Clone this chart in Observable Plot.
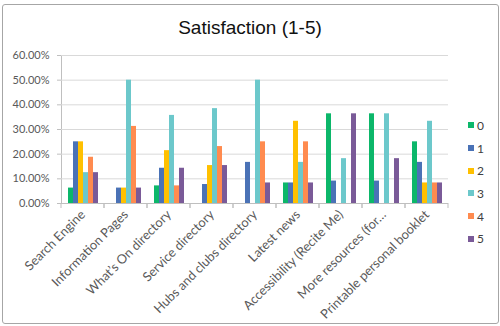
<!DOCTYPE html>
<html>
<head>
<meta charset="utf-8">
<script src="https://cdn.jsdelivr.net/npm/d3@7"></script>
<script src="https://cdn.jsdelivr.net/npm/@observablehq/plot@0.6"></script>
<style>
  html, body { margin: 0; padding: 0; background: #fff; }
  #page { position: relative; width: 500px; height: 326px; overflow: hidden; }
  #border { position: absolute; left: 2px; top: 4px; width: 497px; height: 320px; box-sizing: border-box;
            border: 1px solid #a6a6a6; border-radius: 3px; }
  #title { position: absolute; left: 0; width: 500px; top: 17px; text-align: center;
           font-family: "Liberation Sans", Arial, sans-serif; font-size: 19px; line-height: 22px; color: #111; }
  #chart { position: absolute; left: 0; top: 40px; }
  #chart svg text { fill: #595959; }
  #chart svg g[aria-label^="fx-axis"] text { font-size: 12.8px; }
  #legend { position: absolute; left: 468px; top: 114px; font-family: Lato, sans-serif; font-size: 12px; color: #404040; }
  .item { height: 22.7px; display: flex; align-items: center; }
  .sw { width: 6px; height: 6px; margin-right: 3px; }
</style>
</head>
<body>
<div id="page">
  <div id="border"></div>
  <div id="title">Satisfaction (1-5)</div>
  <div id="chart"></div>
  <div id="legend"></div>
</div>
<script>
const categories = ["Search Engine", "Information Pages", "What’s On directory", "Service directory",
  "Hubs and clubs directory", "Latest news", "Accessibility (Recite Me)", "More resources (for…",
  "Printable personal booklet"];
const ratings = ["0", "1", "2", "3", "4", "5"];
// percent of responses per rating, one array per series (rating)
const rating0 = [6.25, 0, 7.14, 0, 0, 8.33, 36.36, 36.36, 25];
const rating1 = [25, 6.25, 14.29, 7.69, 16.67, 8.33, 9.09, 9.09, 16.67];
const rating2 = [25, 6.25, 21.43, 15.38, 0, 33.33, 0, 0, 8.33];
const rating3 = [12.5, 50, 35.71, 38.46, 50, 16.67, 18.18, 36.36, 33.33];
const rating4 = [18.75, 31.25, 7.14, 23.08, 25, 25, 0, 0, 8.33];
const rating5 = [12.5, 6.25, 14.29, 15.38, 8.33, 8.33, 36.36, 18.18, 8.33];
const yTicks = [0, 0.1, 0.2, 0.3, 0.4, 0.5, 0.6];
const colors = ["#0cb76a", "#4a72b6", "#ffc000", "#6cc8cb", "#ff8b4f", "#7a5a98"];

const seriesValues = [rating0, rating1, rating2, rating3, rating4, rating5];
const data = [];
categories.forEach((c, i) => ratings.forEach((r, j) => {
  data.push({category: c, rating: r, value: seriesValues[j][i] / 100});
}));

function boundaryTicks(index, scales, values, dimensions) {
  try {
    const {width, height, marginBottom, marginLeft = 0} = dimensions;
    const y0 = height - marginBottom;
    const g = document.createElementNS("http://www.w3.org/2000/svg", "g");
    for (const x of [marginLeft, width - (dimensions.marginRight || 0)]) {
      const l = document.createElementNS("http://www.w3.org/2000/svg", "line");
      l.setAttribute("x1", x); l.setAttribute("x2", x);
      l.setAttribute("y1", y0); l.setAttribute("y2", y0 + 5);
      l.setAttribute("stroke", "#bfbfbf");
      g.appendChild(l);
    }
    return g;
  } catch (e) { return null; }
}

const chart = Plot.plot({
  width: 460,
  height: 286,
  marginLeft: 60,
  marginRight: 12,
  marginTop: 15,
  marginBottom: 123,
  style: {fontFamily: "Lato, sans-serif", fontSize: "11px", color: "#bfbfbf", background: "transparent"},
  facet: {data, x: "category", marginBottom: 123},
  fx: {domain: categories, padding: 0, label: null, axis: "bottom", tickRotate: -45, tickSize: 0, tickPadding: 9},
  x: {domain: ratings, axis: null, paddingInner: 0, paddingOuter: 0.655},
  y: {domain: [0, 0.6], ticks: yTicks, tickFormat: d => (d * 100).toFixed(2) + "%", label: null,
      tickSize: 4, tickPadding: 8, line: true},
  color: {domain: ratings, range: colors},
  marks: [
    Plot.ruleY(yTicks.slice(1), {stroke: "#d9d9d9", strokeWidth: 1}),
    Plot.barY(data, {x: "rating", y: "value", fill: "rating"}),
    Plot.ruleY([0], {stroke: "#bfbfbf"}),
    boundaryTicks
  ]
});
document.getElementById("chart").appendChild(chart);

const legend = document.getElementById("legend");
ratings.forEach((r, j) => {
  const item = document.createElement("div");
  item.className = "item";
  const sw = document.createElement("span");
  sw.className = "sw";
  sw.style.background = colors[j];
  const t = document.createElement("span");
  t.textContent = r;
  item.appendChild(sw); item.appendChild(t);
  legend.appendChild(item);
});
</script>
</body>
</html>
